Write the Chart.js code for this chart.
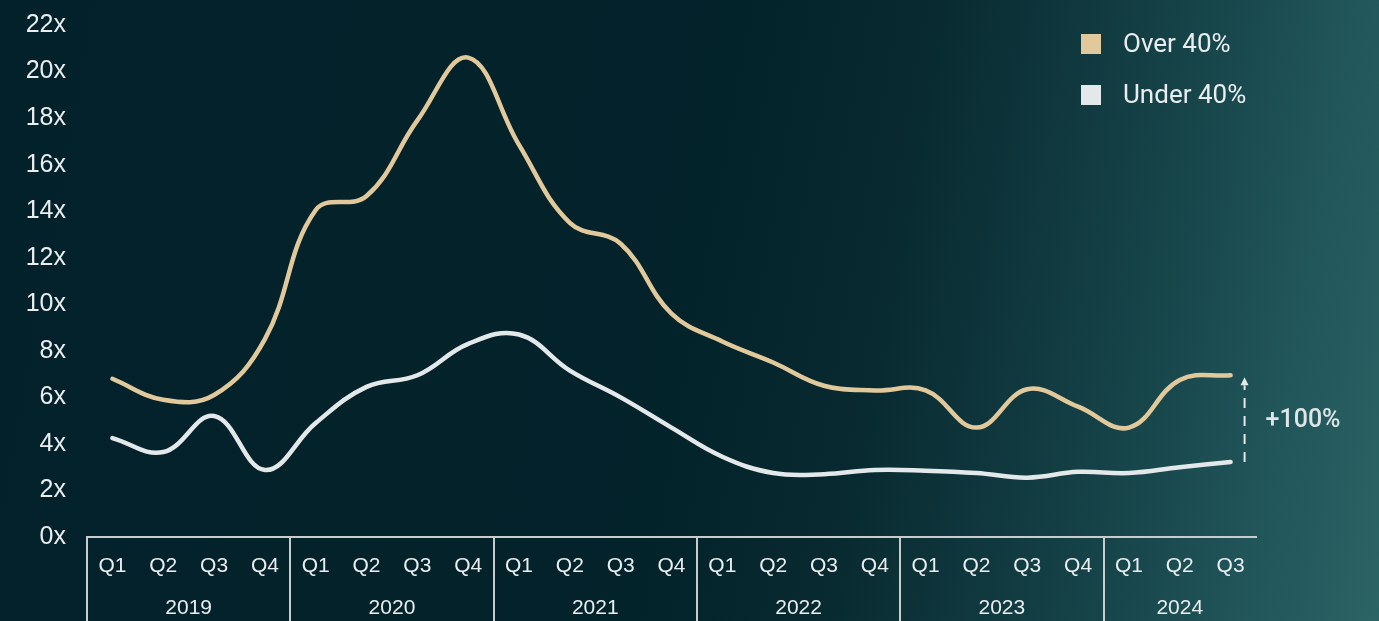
<!DOCTYPE html>
<html>
<head>
<meta charset="utf-8">
<script src="https://cdn.jsdelivr.net/npm/chart.js@4.4.1/dist/chart.umd.min.js"></script>
<style>
  html, body { margin: 0; padding: 0; width: 1379px; height: 621px; overflow: hidden; }
  body {
    background: linear-gradient(100deg, #03212a 0%, #03232b 50%, #07292f 62%, #0f373d 72%, #17464b 82%, #21565a 91%, #2c6364 100%);
  }
  #wrap { position: absolute; left: 0; top: 0; width: 1379px; height: 621px; }
</style>
</head>
<body>
<div id="wrap"><canvas id="c" width="1379" height="621"></canvas></div>
<script>
// ---- data ----
const quarters = ['Q1','Q2','Q3','Q4','Q1','Q2','Q3','Q4','Q1','Q2','Q3','Q4','Q1','Q2','Q3','Q4','Q1','Q2','Q3','Q4','Q1','Q2','Q3'];
const years = ['2019','2020','2021','2022','2023','2024'];
const quartersPerYear = [4,4,4,4,4,3];
const over40 = [6.8, 5.9, 6.1, 8.5, 14.05, 14.65, 17.9, 20.6, 16.85, 13.5, 12.6, 9.6, 8.4, 7.5, 6.5, 6.3, 6.3, 4.7, 6.35, 5.6, 4.7, 6.75, 6.95];
const under40 = [4.25, 3.65, 5.2, 2.88, 4.9, 6.45, 6.95, 8.3, 8.7, 7.15, 6.0, 4.7, 3.45, 2.75, 2.7, 2.88, 2.85, 2.75, 2.55, 2.8, 2.75, 3.0, 3.22];
const seriesNames = ['Over 40%', 'Under 40%'];
const yTicks = [0,2,4,6,8,10,12,14,16,18,20,22];
const changeLabel = '+100%';

const COL_OVER = '#e2c99c';
const COL_UNDER = '#e3e8eb';
const TEXT = '#e9eef0';
const AXIS = '#c9cccd';

const groupPlugin = {
  id: 'groups',
  afterDraw(chart) {
    const ctx = chart.ctx;
    const x = chart.scales.x, y = chart.scales.y;
    const band = x.getPixelForValue(1) - x.getPixelForValue(0);
    const axisY = chart.chartArea.bottom;
    ctx.save();
    let idx = 0;
    ctx.strokeStyle = AXIS;
    ctx.lineWidth = 2;
    ctx.fillStyle = TEXT;
    ctx.font = '21px "Liberation Sans", Arial, sans-serif';
    ctx.textAlign = 'center';
    ctx.textBaseline = 'middle';
    years.forEach((yr, g) => {
      const n = quartersPerYear[g];
      const left = x.getPixelForValue(idx) - band / 2;
      const right = x.getPixelForValue(idx + n - 1) + band / 2;
      ctx.beginPath();
      ctx.moveTo(Math.round(left), axisY);
      ctx.lineTo(Math.round(left), chart.height);
      ctx.stroke();
      ctx.fillText(yr, (left + right) / 2, 608);
      idx += n;
    });
    // dashed change arrow
    const last = over40.length - 1;
    const ax = x.getPixelForValue(last) + 14;
    const yTop = y.getPixelForValue(over40[last]);
    const yBot = y.getPixelForValue(under40[last]);
    ctx.strokeStyle = COL_UNDER;
    ctx.lineWidth = 2;
    ctx.setLineDash([10, 8]);
    ctx.beginPath();
    ctx.moveTo(ax, yBot);
    ctx.lineTo(ax, yTop + 10);
    ctx.stroke();
    ctx.setLineDash([]);
    ctx.fillStyle = COL_UNDER;
    ctx.beginPath();
    ctx.moveTo(ax, yTop + 2);
    ctx.lineTo(ax - 4, yTop + 10);
    ctx.lineTo(ax + 4, yTop + 10);
    ctx.closePath();
    ctx.fill();
    ctx.font = '500 25px Roboto, sans-serif';
    ctx.textAlign = 'left';
    ctx.fillStyle = '#dfe5e8';
    ctx.fillText(changeLabel, ax + 21, (yTop + yBot) / 2 + 2);
    // legend
    const cols = [COL_OVER, COL_UNDER];
    ctx.font = '26px Roboto, sans-serif';
    seriesNames.forEach((name, i) => {
      const cy = 44 + i * 51;
      ctx.fillStyle = cols[i];
      ctx.fillRect(1081, cy - 10, 20, 20);
      ctx.fillStyle = TEXT;
      ctx.fillText(name, 1123, cy + 1);
    });
    ctx.restore();
  }
};

new Chart(document.getElementById('c'), {
  type: 'line',
  data: {
    labels: quarters,
    datasets: [
      { label: seriesNames[0], data: over40, borderColor: COL_OVER, borderWidth: 4.5, tension: 0.4, pointRadius: 0, borderCapStyle: 'round', borderJoinStyle: 'round', fill: false },
      { label: seriesNames[1], data: under40, borderColor: COL_UNDER, borderWidth: 4.5, tension: 0.4, pointRadius: 0, borderCapStyle: 'round', borderJoinStyle: 'round', fill: false }
    ]
  },
  options: {
    responsive: false,
    devicePixelRatio: 1,
    animation: false,
    layout: { padding: { top: 25, right: 123, bottom: 0, left: 0 } },
    plugins: { legend: { display: false }, tooltip: { enabled: false } },
    scales: {
      x: {
        offset: true,
        grid: { display: false, drawTicks: false },
        border: { display: true, color: AXIS, width: 2 },
        ticks: { color: TEXT, font: { family: '"Liberation Sans", Arial, sans-serif', size: 21 }, padding: 17, maxRotation: 0, autoSkip: false },
        afterFit(s) { s.height = 84; s.paddingLeft = 0; s.paddingRight = 0; }
      },
      y: {
        min: 0, max: 22,
        afterBuildTicks(s) { s.ticks = yTicks.map(v => ({ value: v })); },
        grid: { display: false, drawTicks: false },
        border: { display: false },
        ticks: { color: TEXT, font: { family: '"Liberation Sans", Arial, sans-serif', size: 25 }, padding: 21, callback: v => v + 'x' },
        afterFit(s) { s.width = 87; s.paddingTop = 0; s.paddingBottom = 0; }
      }
    }
  },
  plugins: [groupPlugin]
});
</script>
</body>
</html>
